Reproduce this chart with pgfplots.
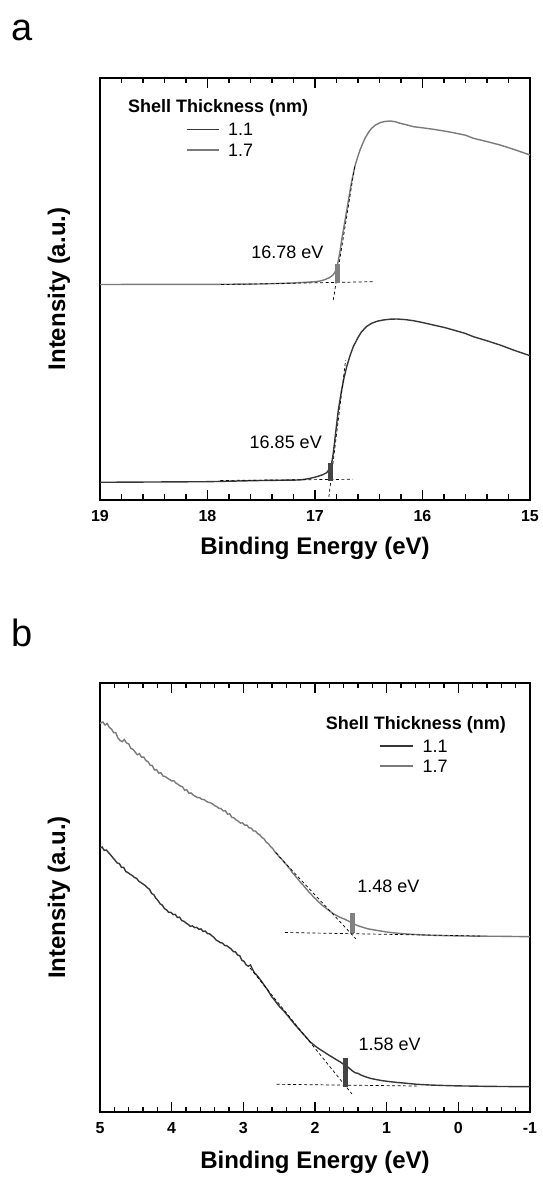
\documentclass[border=0pt]{standalone}
\usepackage{fontspec}
\setmainfont{Liberation Sans}
\usepackage{pgfplots}
\pgfplotsset{compat=1.18}
\definecolor{cdark}{RGB}{55,55,55}
\definecolor{cgrey}{RGB}{122,122,122}
\definecolor{bdark}{RGB}{68,68,68}
\definecolor{bgrey}{RGB}{128,128,128}
\newcommand{\fs}[1]{\fontsize{#1}{#1}\selectfont}
\pgfplotsset{
  myaxis/.style={
    scale only axis, x dir=reverse, ytick=\empty,
    minor x tick num=4,
    major tick length=10pt, minor tick length=5.5pt,
    axis line style={line width=1.6pt},
    tick style={black, line width=1.1pt},
    xticklabel style={font=\fs{16}\bfseries, yshift=-7pt},
    /pgf/number format/assume math mode=true,
    xlabel style={anchor=center, font=\fs{24}\bfseries},
    ylabel style={anchor=center, font=\fs{24}\bfseries},
  },
  curve/.style={line width=1.4pt, no marks},
  guide/.style={black, line width=0.7pt, dash pattern=on 3pt off 2.5pt, no marks},
}
\begin{document}
\begin{tikzpicture}
\path[use as bounding box] (0,0) rectangle (542pt,1178pt);
% ---------------- panel a ----------------
\begin{axis}[myaxis, at={(100pt,678pt)}, anchor=south west,
  width=430pt, height=422pt, xmin=15, xmax=19, ymin=0, ymax=422,
  xtick={15,16,17,18,19},
  xlabel={Binding Energy (eV)}, ylabel={Intensity (a.u.)},
  xlabel style={at={(axis description cs:0.5,-0.1137)}},
  ylabel style={at={(axis description cs:-0.0953,0.5)}},
  clip=false]
% 1.7 nm
\addplot[curve, cgrey] coordinates {
(19.00,215.5) (18.50,215.6) (18.00,215.6) (17.50,216.0) (17.20,217.0) (17.00,218.3)
(16.95,219.0) (16.91,220.3) (16.87,222.2) (16.85,223.5) (16.83,225.3) (16.81,228.5)
(16.80,231.5) (16.79,235.5) (16.77,247) (16.75,261) (16.72,280) (16.69,299)
(16.66,318) (16.628,334) (16.60,344) (16.581,350) (16.56,355.5) (16.535,361.7)
(16.50,368) (16.473,371.7) (16.44,374.8) (16.395,377.3) (16.35,378.5) (16.302,379)
(16.25,378.2) (16.209,376.7) (16.15,375.2) (16.085,373.3) (16.00,372.2) (15.90,370.7)
(15.80,369) (15.713,367.3) (15.60,364.8) (15.527,361.7) (15.40,358.4) (15.279,355)
(15.15,350.6) (15.00,345)};
% 1.1 nm
\addplot[curve, cdark] coordinates {
(19.00,17.7) (18.50,18.0) (18.00,18.3) (17.50,19.5) (17.14,20.0) (17.05,21.5)
(16.984,23.3) (16.93,25.2) (16.891,27.3) (16.865,31) (16.845,36.7) (16.830,46.7)
(16.805,70) (16.783,90) (16.752,110) (16.73,122) (16.705,133.3) (16.675,144)
(16.644,153.3) (16.60,162.5) (16.566,168.3) (16.52,173.5) (16.473,176.7) (16.42,178.8)
(16.365,180) (16.30,180.8) (16.24,181) (16.16,180.4) (16.085,179.3) (16.00,177.5)
(15.90,175) (15.80,172.6) (15.713,170) (15.60,166.5) (15.527,163.3) (15.40,159.2)
(15.279,155) (15.15,149.8) (15.00,144.3)};
% guide lines
\addplot[guide] coordinates {(17.874,215.4) (16.451,218.3)};
\addplot[guide] coordinates {(16.83,200) (16.628,335)};
\addplot[guide] coordinates {(17.88,19.5) (16.65,20.7)};
\addplot[guide] coordinates {(16.871,3) (16.715,140)};
% onset markers
\addplot[bgrey, line width=5pt, no marks] coordinates {(16.79,216.7) (16.79,235.7)};
\addplot[bdark, line width=5.5pt, no marks] coordinates {(16.856,19.3) (16.856,37.3)};
\node[font=\fs{18}] at (axis cs:17.256,247.5) {16.78 eV};
\node[font=\fs{18}] at (axis cs:17.272,57.5) {16.85 eV};
% legend
\node[anchor=west, inner sep=0, font=\fs{18}\bfseries] at (axis description cs:0.0651,0.9289) {Shell Thickness (nm)};
\draw[cdark, line width=1.4pt] (axis description cs:0.2016,0.8784) -- (axis description cs:0.2756,0.8784);
\draw[cgrey, line width=1.4pt] (axis description cs:0.2016,0.8294) -- (axis description cs:0.2756,0.8294);
\node[anchor=west, inner sep=0, font=\fs{18}] at (axis description cs:0.2977,0.8784) {1.1};
\node[anchor=west, inner sep=0, font=\fs{18}] at (axis description cs:0.2977,0.8294) {1.7};
\node[anchor=base west, inner sep=0, font=\fs{38}] at (axis description cs:-0.2070,1.0877) {a};
\end{axis}
% ---------------- panel b ----------------
\begin{axis}[myaxis, at={(100pt,66pt)}, anchor=south west,
  width=430pt, height=429pt, xmin=-1, xmax=5, ymin=0, ymax=429,
  xtick={-1,0,1,2,3,4,5},
  xlabel={Binding Energy (eV)}, ylabel={Intensity (a.u.)},
  xlabel style={at={(axis description cs:0.5,-0.1166)}},
  ylabel style={at={(axis description cs:-0.0953,0.5)}},
  clip=false]
% 1.7 nm
\addplot[curve, cgrey] coordinates {
(5.00,388.7) (4.96,390.0) (4.93,387.0) (4.90,388.6) (4.87,384.6) (4.84,382.9) (4.81,379.4)
(4.78,379.3) (4.75,374.0) (4.72,371.6) (4.69,370.3) (4.66,372.4) (4.63,369.0) (4.60,368.2)
(4.57,363.6) (4.54,362.7) (4.51,360.0) (4.48,357.2) (4.45,358.3) (4.42,354.8) (4.39,355.0)
(4.36,351.6) (4.33,350.3) (4.30,346.8) (4.27,346.4) (4.24,342.0) (4.21,342.3) (4.18,338.8)
(4.15,339.3) (4.12,335.8) (4.09,335.5) (4.06,333.8) (4.03,332.6) (4.00,331.1) (3.97,331.3)
(3.94,328.9) (3.91,327.6) (3.88,325.9) (3.85,325.4) (3.82,321.9) (3.79,322.3) (3.76,318.7)
(3.73,319.1) (3.70,316.9) (3.67,315.7) (3.64,314.3) (3.61,314.4) (3.58,312.6) (3.55,312.5)
(3.52,310.9) (3.49,309.7) (3.46,309.3) (3.43,308.1) (3.40,306.4) (3.37,305.3) (3.34,303.7)
(3.31,303.4) (3.28,301.0) (3.25,301.3) (3.22,297.9) (3.19,298.1) (3.16,294.6) (3.13,294.2)
(3.10,292.0) (3.07,290.8) (3.04,288.9) (3.01,289.1) (2.98,286.8) (2.95,286.9) (2.92,284.1)
(2.89,284.0) (2.86,281.1) (2.83,280.9) (2.80,278.3) (2.77,277.2) (2.74,274.5) (2.71,273.0)
(2.68,269.8) (2.65,268.3) (2.62,265.4) (2.59,263.5) (2.56,260.2) (2.53,258.5) (2.50,255.1)
(2.47,253.4) (2.44,250.5) (2.41,248.3) (2.38,245.4) (2.35,243.3) (2.32,239.7) (2.29,237.4)
(2.26,234.7) (2.23,232.2) (2.20,229.4) (2.17,227.3) (2.14,224.6) (2.11,222.2) (2.08,219.6)
(2.05,217.5) (2.02,215.0) (1.99,213.1) (1.96,210.7) (1.93,208.9) (1.90,206.8) (1.87,205.2)
(1.84,203.4) (1.81,201.8) (1.78,200.2) (1.74,198.2) (1.70,196.5) (1.66,195.0) (1.62,193.8)
(1.58,192.6) (1.54,191.2) (1.50,189.8) (1.46,188.1) (1.42,186.8) (1.38,185.8) (1.34,184.9)
(1.30,184.0) (1.25,183.0) (1.20,182.4) (1.10,181.2) (1.00,180.0) (0.90,179.1) (0.80,178.5)
(0.70,177.9) (0.60,177.5) (0.50,177.1) (0.40,176.8) (0.30,176.6) (0.20,176.4) (0.00,176.1)
(-0.20,175.9) (-0.40,175.8) (-0.60,175.7) (-0.80,175.5) (-1.00,175.3)};
% 1.1 nm
\addplot[curve, cdark] coordinates {
(5.00,263.7) (4.97,265.0) (4.94,261.5) (4.91,262.0) (4.88,259.3) (4.85,256.9) (4.82,254.3)
(4.79,251.7) (4.76,249.0) (4.73,248.4) (4.70,244.6) (4.67,244.7) (4.64,240.5) (4.61,239.4)
(4.58,237.7) (4.55,236.5) (4.52,234.6) (4.49,233.7) (4.46,230.9) (4.43,229.5) (4.40,228.0)
(4.37,226.5) (4.34,224.3) (4.31,222.8) (4.28,218.5) (4.25,217.4) (4.22,213.7) (4.19,211.4)
(4.16,208.1) (4.13,206.9) (4.10,203.4) (4.07,202.0) (4.04,199.5) (4.01,199.7) (3.98,197.4)
(3.95,197.6) (3.92,194.5) (3.89,194.9) (3.86,191.5) (3.83,190.7) (3.80,189.1) (3.77,187.6)
(3.74,185.7) (3.71,186.1) (3.68,184.4) (3.65,184.6) (3.62,182.7) (3.59,183.1) (3.56,180.5)
(3.53,180.9) (3.50,178.4) (3.47,178.1) (3.44,176.3) (3.41,174.6) (3.38,172.0) (3.35,170.8)
(3.32,169.3) (3.29,168.9) (3.26,166.5) (3.23,166.3) (3.20,164.6) (3.17,163.0) (3.14,160.4)
(3.11,160.1) (3.08,157.0) (3.05,156.3) (3.02,151.7) (2.99,150.6) (2.96,147.1) (2.93,145.8)
(2.90,147.0) (2.88,144.0) (2.85,139.7) (2.82,137.4) (2.79,134.9) (2.76,132.0) (2.73,129.0)
(2.70,125.9) (2.67,123.0) (2.64,119.6) (2.61,115.8) (2.58,113.3) (2.55,110.5) (2.52,107.6)
(2.49,105.0) (2.46,102.8) (2.43,100.6) (2.40,97.9) (2.37,95.5) (2.34,92.6) (2.31,90.0)
(2.28,87.3) (2.25,85.0) (2.22,82.4) (2.19,80.1) (2.16,77.6) (2.13,75.3) (2.10,72.8)
(2.07,70.3) (2.04,68.5) (2.01,66.8) (1.98,65.0) (1.95,63.6) (1.92,62.1) (1.88,60.3)
(1.84,58.4) (1.80,56.6) (1.76,54.9) (1.72,53.1) (1.68,51.4) (1.64,49.7) (1.60,47.6)
(1.56,46.0) (1.52,43.7) (1.48,41.2) (1.44,39.3) (1.40,38.6) (1.36,37.0) (1.30,35.3)
(1.23,33.7) (1.15,32.5) (1.05,31.2) (0.95,30.3) (0.85,29.5) (0.75,28.9) (0.58,27.7)
(0.40,27.0) (0.20,26.5) (0.00,26.1) (-0.20,25.9) (-0.35,25.7) (-0.60,25.5) (-0.80,25.4)
(-1.00,25.3)};
% guide lines
\addplot[guide] coordinates {(2.419,179.5) (-0.302,176)};
\addplot[guide] coordinates {(2.55,259.3) (1.43,173.3)};
\addplot[guide] coordinates {(2.535,27.7) (0.581,26)};
\addplot[guide] coordinates {(2.907,144) (1.484,18)};
% onset markers
\addplot[bgrey, line width=5pt, no marks] coordinates {(1.477,178.7) (1.477,199.3)};
\addplot[bdark, line width=5pt, no marks] coordinates {(1.57,25.3) (1.57,54.3)};
\node[font=\fs{18}] at (axis cs:0.977,226) {1.48 eV};
\node[font=\fs{18}] at (axis cs:0.958,67.5) {1.58 eV};
% legend
\node[anchor=west, inner sep=0, font=\fs{18}\bfseries] at (axis description cs:0.5247,0.9023) {Shell Thickness (nm)};
\draw[cdark, line width=1.4pt] (axis description cs:0.6516,0.8534) -- (axis description cs:0.7279,0.8534);
\draw[cgrey, line width=1.4pt] (axis description cs:0.6516,0.8063) -- (axis description cs:0.7279,0.8063);
\node[anchor=west, inner sep=0, font=\fs{18}] at (axis description cs:0.7498,0.8534) {1.1};
\node[anchor=west, inner sep=0, font=\fs{18}] at (axis description cs:0.7498,0.8063) {1.7};
\node[anchor=base west, inner sep=0, font=\fs{38}] at (axis description cs:-0.2063,1.0862) {b};
\end{axis}
\end{tikzpicture}
\end{document}
